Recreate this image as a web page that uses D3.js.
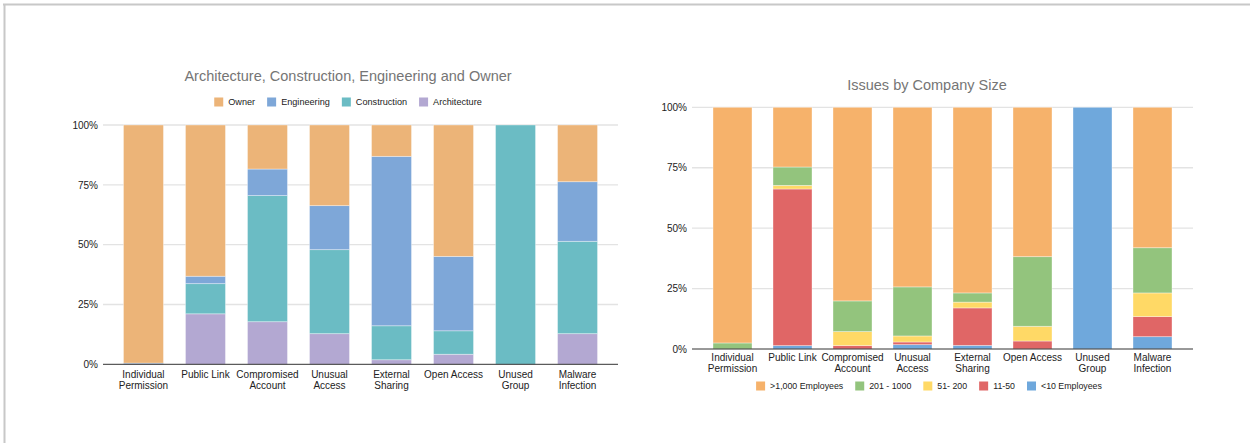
<!DOCTYPE html>
<html>
<head>
<meta charset="utf-8">
<script src="https://cdn.jsdelivr.net/npm/d3@7"></script>
<style>
  html, body { margin: 0; padding: 0; background: #fff; }
  svg { display: block; font-family: "Liberation Sans", Arial, sans-serif; }
</style>
</head>
<body>
<svg id="chart" width="1250" height="443"></svg>
<script>
// Issue categories shared by both panels (two-line labels)
const categories = [
  ["Individual", "Permission"],
  ["Public Link"],
  ["Compromised", "Account"],
  ["Unusual", "Access"],
  ["External", "Sharing"],
  ["Open Access"],
  ["Unused", "Group"],
  ["Malware", "Infection"]
];

// Panel 1: share of each issue by industry role (percent, stacked bottom to top)
const industrySeries = ["Architecture", "Construction", "Engineering", "Owner"];
const architecture = [0, 21.1, 17.8, 12.8, 1.9, 4.2, 0, 12.8];
const construction = [0, 12.6, 52.7, 35.1, 14.2, 9.8, 100, 38.6];
const engineering  = [0.5, 3.1, 11.1, 18.4, 70.8, 31.1, 0, 24.9];
const owner        = [99.5, 63.2, 18.4, 33.7, 13.1, 54.9, 0, 23.7];
const industryColors = ["#b3a8d2", "#6bbcc4", "#7ea7d8", "#ecb478"];
const industryLegend = ["Owner", "Engineering", "Construction", "Architecture"];

// Panel 2: share of each issue by company size (percent, stacked bottom to top)
const sizeSeries = ["<10 Employees", "11-50", "51- 200", "201 - 1000", ">1,000 Employees"];
const lt10     = [0, 1.4, 0, 1.8, 1.5, 0, 100, 5.1];
const s11to50  = [0, 64.8, 1.4, 1.1, 15.5, 3.3, 0, 8.3];
const s51to200 = [0, 1.5, 5.8, 2.5, 2.4, 6.1, 0, 9.8];
const s201to1k = [2.5, 7.6, 12.7, 20.3, 3.8, 28.8, 0, 18.7];
const gt1000   = [97.5, 24.7, 80.1, 74.3, 76.8, 61.8, 0, 58.1];
const sizeColors = ["#6fa8dc", "#e06666", "#ffd966", "#93c47d", "#f6b26b"];
const sizeLegend = [">1,000 Employees", "201 - 1000", "51- 200", "11-50", "<10 Employees"];

const yTicks = [0, 25, 50, 75, 100];
const yTickLabels = ["0%", "25%", "50%", "75%", "100%"];

const svg = d3.select("#chart");

// page frame
svg.append("line").attr("x1", 3).attr("x2", 1250).attr("y1", 4.5).attr("y2", 4.5)
  .attr("stroke", "#c8c8c8").attr("stroke-width", 2);
svg.append("line").attr("x1", 4.5).attr("x2", 4.5).attr("y1", 4).attr("y2", 443)
  .attr("stroke", "#c8c8c8").attr("stroke-width", 2);

function drawPanel(opt) {
  const g = svg.append("g");
  const keys = opt.series;
  const rows = categories.map((c, i) => {
    const r = { cat: c.join(" ") };
    keys.forEach((k, j) => { r[k] = opt.values[j][i]; });
    return r;
  });
  const stacked = d3.stack().keys(keys)(rows);

  const x = d3.scaleBand()
    .domain(rows.map(r => r.cat))
    .range([opt.x0, opt.x1])
    .paddingInner(opt.padIn)
    .paddingOuter(opt.padOut);
  const y = d3.scaleLinear().domain([0, 100]).range([opt.yBottom, opt.yTop]);

  // gridlines and y labels
  const yAxis = d3.axisLeft(y).tickValues(yTicks)
    .tickFormat((d, i) => yTickLabels[i]).tickSize(0).tickPadding(5);
  const ya = g.append("g").attr("transform", `translate(${opt.x0},0)`).call(yAxis);
  ya.select(".domain").remove();
  ya.selectAll("text").attr("font-size", 10).attr("fill", "#222")
    .attr("font-family", "Liberation Sans, Arial, sans-serif");
  g.append("g").selectAll("line").data(yTicks.filter(d => d > 0)).join("line")
    .attr("x1", opt.x0).attr("x2", opt.x1)
    .attr("y1", d => y(d)).attr("y2", d => y(d))
    .attr("stroke", "#e3e3e3").attr("stroke-width", 1.3);

  // stacked bars
  g.append("g").selectAll("g").data(stacked).join("g")
    .attr("fill", (d, i) => opt.colors[i])
    .selectAll("rect").data(d => d.filter(p => p[1] - p[0] > 0)).join("rect")
    .attr("x", d => x(d.data.cat))
    .attr("width", x.bandwidth())
    .attr("y", d => y(d[1]))
    .attr("height", d => y(d[0]) - y(d[1]))
    .attr("stroke", "rgba(255,255,255,0.45)")
    .attr("stroke-width", 0.8);

  // baseline
  g.append("line").attr("x1", opt.x0).attr("x2", opt.x1)
    .attr("y1", y(0)).attr("y2", y(0))
    .attr("stroke", "#333").attr("stroke-width", 1);

  // category labels
  const xa = g.append("g");
  categories.forEach((c, i) => {
    const t = xa.append("text")
      .attr("x", x(rows[i].cat) + x.bandwidth() / 2)
      .attr("y", y(0) + opt.labelDy)
      .attr("text-anchor", "middle")
      .attr("font-size", 10).attr("fill", "#222");
    c.forEach((line, k) => {
      t.append("tspan").attr("x", x(rows[i].cat) + x.bandwidth() / 2)
        .attr("dy", k === 0 ? 0 : 10.5).text(line);
    });
  });

  // title
  g.append("text").attr("x", opt.titleX).attr("y", opt.titleY)
    .attr("text-anchor", "middle").attr("font-size", 14.5).attr("fill", "#757575")
    .text(opt.title);

  // legend
  const lg = g.append("g");
  const gap = 12;
  let cx = 0;
  opt.legend.forEach(name => {
    const idx = keys.indexOf(name);
    const item = lg.append("g").attr("transform", `translate(${cx},0)`);
    item.append("rect").attr("x", 0).attr("y", -4.5).attr("width", 9).attr("height", 9)
      .attr("fill", opt.colors[idx]);
    const t = item.append("text").attr("x", 14).attr("y", 3.3)
      .attr("font-size", opt.legendFont).attr("fill", "#222").text(name);
    cx += 14 + t.node().getComputedTextLength() + gap;
  });
  const totalW = cx - gap;
  lg.attr("transform", `translate(${opt.legendX - totalW / 2},${opt.legendY})`);
}

drawPanel({
  series: industrySeries,
  values: [architecture, construction, engineering, owner],
  colors: industryColors,
  legend: industryLegend,
  title: "Architecture, Construction, Engineering and Owner",
  titleX: 348, titleY: 81,
  legendX: 348, legendY: 102, legendFont: 9.15,
  x0: 103, x1: 618, padIn: 0.355, padOut: 0.33,
  yTop: 125, yBottom: 364.3, labelDy: 14
});

drawPanel({
  series: sizeSeries,
  values: [lt10, s11to50, s51to200, s201to1k, gt1000],
  colors: sizeColors,
  legend: sizeLegend,
  title: "Issues by Company Size",
  titleX: 927, titleY: 90,
  legendX: 929, legendY: 386, legendFont: 8.8,
  x0: 692, x1: 1193, padIn: 0.35, padOut: 0.35,
  yTop: 107.3, yBottom: 349, labelDy: 12
});
</script>
</body>
</html>
